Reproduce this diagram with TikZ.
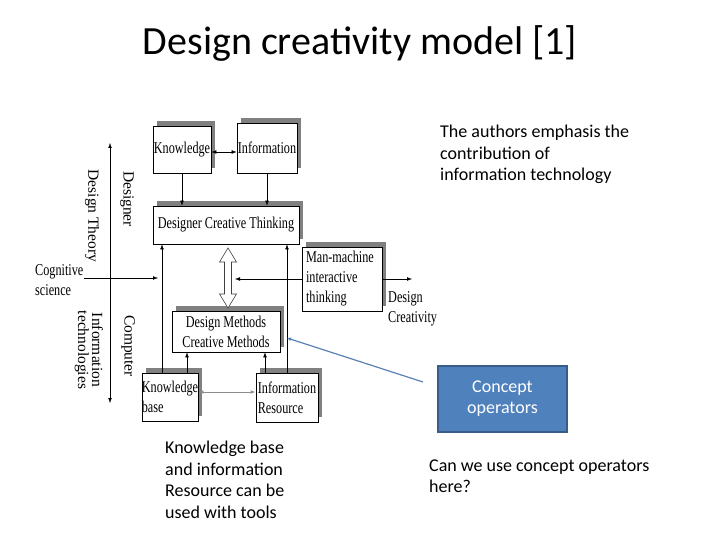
\documentclass[tikz,border=0pt]{standalone}
\usepackage{fontspec}
\setmainfont{Carlito}
\newfontfamily\scanfont[FakeStretch=0.74]{Liberation Serif}
\newfontfamily\axisfont{Liberation Serif}
\usetikzlibrary{positioning, shapes, arrows.meta, shadows}
\definecolor{shadowgray}{RGB}{128,128,128}
\definecolor{linkgray}{RGB}{140,140,140}
\definecolor{conceptblue}{RGB}{79,129,189}
\definecolor{conceptedge}{RGB}{56,93,138}
\definecolor{pointerblue}{RGB}{90,128,180}

\begin{document}
\begin{tikzpicture}[x=1pt, y=-1pt, >={Latex[length=5pt,width=3.6pt]}]
\tikzstyle{every node}=[inner sep=0pt, text=black];
\tikzstyle{slide text}=[font=\fontsize{18}{21.5}\selectfont, align=left, anchor=west];
\tikzstyle{scan box}=[draw, fill=white, line width=0.7pt, align=left,
  font=\scanfont\fontsize{16.5}{20}\selectfont,
  general shadow={fill=shadowgray, shadow xshift=4pt, shadow yshift=5pt}];
\tikzstyle{scan text}=[font=\scanfont\fontsize{16.5}{20}\selectfont, align=left, anchor=west];
\tikzstyle{axis text}=[font=\axisfont\fontsize{15.5}{14}\selectfont, rotate=-90, align=center];
\useasboundingbox (0,0) rectangle (720,540);

% title and slide notes
\path (360,43) node[font=\fontsize{40}{44}\selectfont] (title) {Design creativity model [1]};
\path (440,154.5) node[slide text] (note) {The authors emphasis the\\contribution of\\information technology};
\path (165,480) node[slide text] (tools) {Knowledge base\\and information\\Resource can be\\used with tools};
\path (429,476) node[slide text] (ask) {Can we use concept operators\\here?};
\path (502.5,399) node[draw=conceptedge, fill=conceptblue, line width=1.8pt,
  minimum width=129pt, minimum height=66pt, align=center, text=white,
  font=\fontsize{18}{21}\selectfont] (cop) {Concept\\operators};

% scanned model
\path (182,149.5) node[scan box, minimum width=58pt, minimum height=47pt] (know) {Knowledge};
\path (267,148) node[scan box, minimum width=60pt, minimum height=50pt] (info) {Information};
\path (226,225) node[scan box, minimum width=146pt, minimum height=38pt] (dct) {Designer Creative Thinking};
\path (342,279) node[scan box, minimum width=80pt, minimum height=64pt, text width=72pt] (mm) {Man-machine\\interactive\\thinking};
\path (226,331.5) node[scan box, minimum width=108pt, minimum height=41pt, align=center] (dm) {Design Methods\\Creative Methods};
\path (170,397) node[scan box, minimum width=56pt, minimum height=48pt] (kb) {Knowledge\\base};
\path (287,397.5) node[scan box, minimum width=62pt, minimum height=49pt] (ir) {Information\\Resource};
\path (388,308.5) node[scan text] (dcre) {Design\\Creativity};
\path (35,280) node[scan text] (cog) {Cognitive\\science};

\path (92,216) node[axis text] (theory) {Design Theory};
\path (127,199) node[axis text] (designer) {Designer};
\path (89,350) node[axis text] (itech) {Information\\technologies};
\path (128,346) node[axis text] (comp) {Computer};

\coordinate (axtop) at (110,143);
\coordinate (axbot) at (110,403);
\coordinate (cogend) at (158,278);
\coordinate (mmend) at (412,279);
\coordinate (dbltip) at (235,279);
\coordinate (ptrstart) at (423,382);
\coordinate (ptrend) at (287,338);

\draw [<->] (axtop) -- (axbot);
\draw [->] (cog.east |- cogend) -- (cogend);
\draw [<->] ([yshift=-2.5pt]know.east) -- ([yshift=-2.5pt]know.east -| info.west);
\draw [->] (know.south) -- (know.south |- dct.north);
\draw [->] (info.south) -- (info.south |- dct.north);
\draw [->] ([xshift=-8pt]kb.north) -- ([xshift=-8pt]kb.north |- dct.south);
\draw [->] ([xshift=17pt]kb.north) -- ([xshift=17pt]kb.north |- dm.south);
\draw [->] ([xshift=-22pt]ir.north) -- ([xshift=-22pt]ir.north |- dm.south);
\draw [->] (ir.north) -- (ir.north |- dct.south);
\draw [<->, color=linkgray, line width=0.9pt] ([yshift=5pt]kb.east) -- ([yshift=5pt]kb.east -| ir.west);
\draw [->] (mm.east) -- (mmend);
\draw [->] (mm.west) -- (dbltip);
\draw [black!75, fill=white, line width=0.6pt]
  (228,248) -- (236.5,262) -- (231.5,262) -- (231.5,294) -- (236.5,294) -- (228,308)
  -- (219.5,294) -- (224.5,294) -- (224.5,262) -- (219.5,262) -- cycle;
\draw [->, color=pointerblue, line width=1.2pt, >={Latex[length=4pt,width=4pt]}] (ptrstart) -- (ptrend);
\end{tikzpicture}
\end{document}
